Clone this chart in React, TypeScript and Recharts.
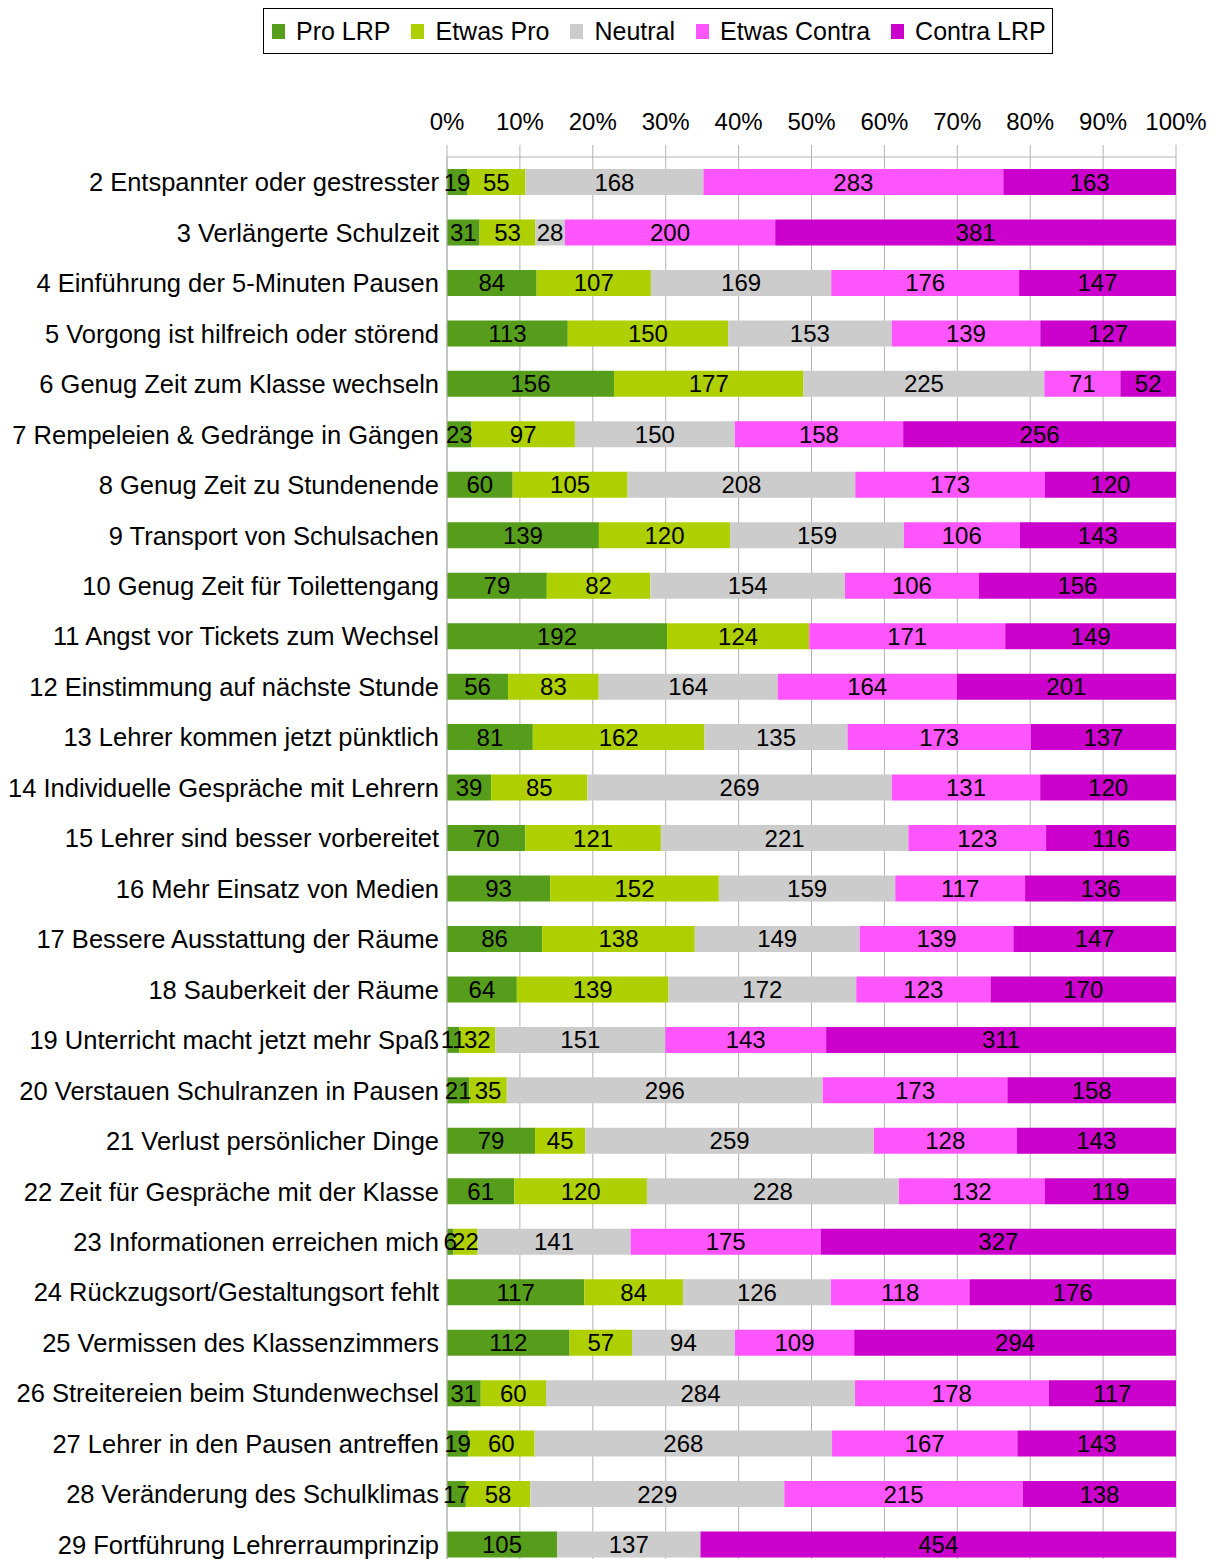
import React from "react";
import { BarChart, Bar, XAxis, YAxis, CartesianGrid, LabelList, Legend } from "recharts";

const categories = [
  "2 Entspannter oder gestresster",
  "3 Verlängerte Schulzeit",
  "4 Einführung der 5-Minuten Pausen",
  "5 Vorgong ist hilfreich oder störend",
  "6 Genug Zeit zum Klasse wechseln",
  "7 Rempeleien & Gedränge in Gängen",
  "8 Genug Zeit zu Stundenende",
  "9 Transport von Schulsachen",
  "10 Genug Zeit für Toilettengang",
  "11 Angst vor Tickets zum Wechsel",
  "12 Einstimmung auf nächste Stunde",
  "13 Lehrer kommen jetzt pünktlich",
  "14 Individuelle Gespräche mit Lehrern",
  "15 Lehrer sind besser vorbereitet",
  "16 Mehr Einsatz von Medien",
  "17 Bessere Ausstattung der Räume",
  "18 Sauberkeit der Räume",
  "19 Unterricht macht jetzt mehr Spaß",
  "20 Verstauen Schulranzen in Pausen",
  "21 Verlust persönlicher Dinge",
  "22 Zeit für Gespräche mit der Klasse",
  "23 Informationen erreichen mich",
  "24 Rückzugsort/Gestaltungsort fehlt",
  "25 Vermissen des Klassenzimmers",
  "26 Streitereien beim Stundenwechsel",
  "27 Lehrer in den Pausen antreffen",
  "28 Veränderung des Schulklimas",
  "29 Fortführung Lehrerraumprinzip",
];

const proLRP = [19, 31, 84, 113, 156, 23, 60, 139, 79, 192, 56, 81, 39, 70, 93, 86, 64, 11, 21, 79, 61, 6, 117, 112, 31, 19, 17, 105];
const etwasPro = [55, 53, 107, 150, 177, 97, 105, 120, 82, 124, 83, 162, 85, 121, 152, 138, 139, 32, 35, 45, 120, 22, 84, 57, 60, 60, 58, null];
const neutral = [168, 28, 169, 153, 225, 150, 208, 159, 154, null, 164, 135, 269, 221, 159, 149, 172, 151, 296, 259, 228, 141, 126, 94, 284, 268, 229, 137];
const etwasContra = [283, 200, 176, 139, 71, 158, 173, 106, 106, 171, 164, 173, 131, 123, 117, 139, 123, 143, 173, 128, 132, 175, 118, 109, 178, 167, 215, null];
const contraLRP = [163, 381, 147, 127, 52, 256, 120, 143, 156, 149, 201, 137, 120, 116, 136, 147, 170, 311, 158, 143, 119, 327, 176, 294, 117, 143, 138, 454];

const percentTicks = [0, 0.1, 0.2, 0.3, 0.4, 0.5, 0.6, 0.7, 0.8, 0.9, 1];

const series = [
  { key: "pro", name: "Pro LRP", color: "#579D1C", values: proLRP },
  { key: "etwasPro", name: "Etwas Pro", color: "#AFD000", values: etwasPro },
  { key: "neutral", name: "Neutral", color: "#CCCCCC", values: neutral },
  { key: "etwasContra", name: "Etwas Contra", color: "#FF55FF", values: etwasContra },
  { key: "contra", name: "Contra LRP", color: "#CC00CC", values: contraLRP },
];

const data = categories.map((name, i) => {
  const row: Record<string, any> = { name };
  series.forEach((s) => {
    row[s.key] = s.values[i];
  });
  return row;
});

const FONT = "'Liberation Sans', Arial, sans-serif";

const LegendContent = () => (
  <div
    style={{
      boxSizing: "border-box",
      width: 790,
      height: 46,
      border: "1px solid #000",
      background: "#fff",
      display: "flex",
      alignItems: "center",
      paddingLeft: 8,
      fontFamily: FONT,
      fontSize: 25,
      color: "#000",
    }}
  >
    {series.map((s, i) => (
      <div key={s.key} style={{ display: "flex", alignItems: "center", marginRight: i < series.length - 1 ? 21 : 0 }}>
        <span style={{ display: "inline-block", width: 13, height: 15, background: s.color, marginRight: 11 }} />
        <span style={{ lineHeight: "25px" }}>{s.name}</span>
      </div>
    ))}
  </div>
);

export default function App() {
  return (
    <div style={{ fontFamily: FONT }}>
      <BarChart
        width={1210}
        height={1566}
        data={data}
        layout="vertical"
        stackOffset="expand"
        margin={{ top: 43, right: 42, bottom: 4, left: 0 }}
      >
        <CartesianGrid horizontal={false} vertical={true} stroke="#B3B3B3" />
        <XAxis
          type="number"
          orientation="top"
          domain={[0, 1]}
          ticks={percentTicks}
          tickFormatter={(v: number) => `${Math.round(v * 100)}%`}
          height={60}
          tickSize={12}
          tickMargin={15}
          axisLine={{ stroke: "#B3B3B3" }}
          tickLine={{ stroke: "#B3B3B3" }}
          tick={{ fill: "#000", fontSize: 24, fontFamily: FONT }}
          interval={0}
        />
        <YAxis
          type="category"
          dataKey="name"
          width={439}
          interval={0}
          tickSize={0}
          tickMargin={8}
          axisLine={{ stroke: "#B3B3B3" }}
          tickLine={false}
          tick={{ fill: "#000", fontSize: 25.5, fontFamily: FONT }}
        />
        <Legend
          verticalAlign="top"
          align="left"
          wrapperStyle={{ top: 0, left: 255, width: 790 }}
          content={() => <LegendContent />}
        />
        {series.map((s) => (
          <Bar
            key={s.key}
            dataKey={s.key}
            name={s.name}
            stackId="a"
            fill={s.color}
            barSize={26}
            isAnimationActive={false}
          >
            <LabelList
              dataKey={s.key}
              position="center"
              fill="#000"
              fontSize={24}
              fontFamily={FONT}
              formatter={(v: any) => (v ? String(v) : "")}
            />
          </Bar>
        ))}
      </BarChart>
    </div>
  );
}
